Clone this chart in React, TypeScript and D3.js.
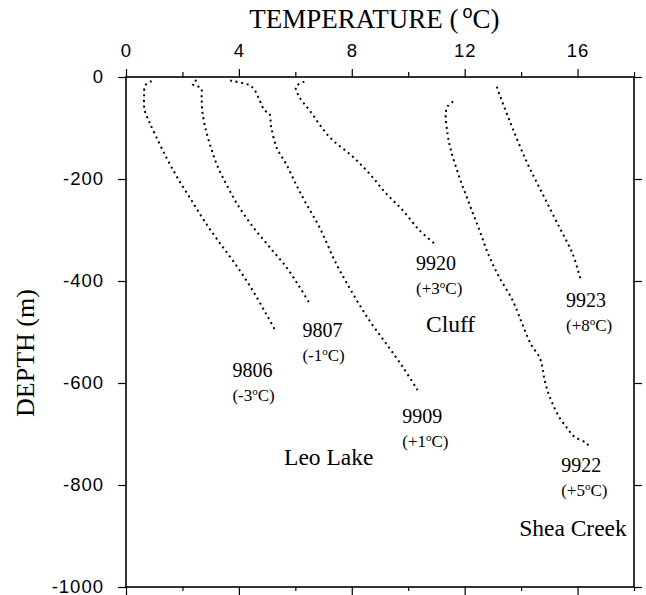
import { useEffect, useRef } from "react";
import * as d3 from "d3";

// temperature (°C), depth (m)
const well9806: [number, number][] = [
  [0.91, -8], [0.69, -16], [0.64, -40], [0.66, -65], [0.8, -85], [1.05, -115],
  [1.45, -160], [1.85, -200], [2.3, -240], [2.75, -280], [3.25, -320],
  [3.85, -365], [4.45, -415], [4.95, -463], [5.28, -496],
];
const well9807: [number, number][] = [
  [2.5, -6], [2.36, -14], [2.66, -22], [2.68, -40], [2.7, -65], [2.8, -97],
  [3.0, -137], [3.25, -176], [3.6, -215], [3.95, -250], [4.5, -294],
  [5.08, -333], [5.67, -372], [6.14, -411], [6.53, -446],
];
const well9909: [number, number][] = [
  [3.69, -7], [4.37, -16], [4.55, -25], [4.73, -45], [4.9, -65], [5.08, -72],
  [5.14, -97], [5.35, -140], [5.67, -170], [6.02, -210], [6.35, -245],
  [6.85, -294], [7.44, -365], [8.03, -424], [8.62, -477], [9.21, -522],
  [9.8, -568], [10.33, -614],
];
const well9920: [number, number][] = [
  [6.32, -9], [6.02, -19], [6.14, -39], [6.5, -65], [7.2, -117], [8.03, -156],
  [8.62, -189], [9.21, -228], [9.8, -261], [10.39, -300], [10.96, -328],
];
const well9922: [number, number][] = [
  [11.59, -48], [11.39, -58], [11.33, -71], [11.39, -110], [11.51, -143],
  [11.81, -196], [12.16, -248], [12.52, -300], [12.87, -352], [13.22, -392],
  [13.69, -437], [13.99, -477], [14.22, -509], [14.4, -529], [14.64, -548],
  [14.75, -568], [14.81, -588], [14.93, -614], [15.11, -640], [15.35, -667],
  [15.64, -689], [15.88, -705], [16.29, -717], [16.44, -726],
];
const well9923: [number, number][] = [
  [13.14, -19], [13.22, -32], [13.58, -84], [14.17, -163], [14.75, -228],
  [15.35, -294], [15.82, -346], [16.11, -398],
];

const wellNames = ["9806", "9807", "9909", "9920", "9922", "9923"];
const wellOffsets = ["-3", "-1", "+1", "+3", "+5", "+8"];
const wellCurves = [well9806, well9807, well9909, well9920, well9922, well9923];

const siteNames = ["Leo Lake", "Cluff", "Shea Creek"];

const tempMajorTicks = [0, 4, 8, 12, 16];
const tempMinorTicks = [2, 6, 10, 14, 18];
const depthTicks = [0, -200, -400, -600, -800, -1000];

const SERIF = "'Liberation Serif', 'Times New Roman', serif";
const SANS = "'Liberation Sans', Arial, Helvetica, sans-serif";

export default function App() {
  const svgRef = useRef<SVGSVGElement>(null);
  const width = 646;
  const height = 595;

  useEffect(() => {
    if (!svgRef.current) return;
    const svg = d3.select(svgRef.current);
    svg.selectAll("*").remove();

    const margin = { top: 77, right: 12, bottom: 8, left: 126 };
    const innerWidth = width - margin.left - margin.right;
    const innerHeight = height - margin.top - margin.bottom;

    const g = svg
      .append("g")
      .attr("transform", `translate(${margin.left},${margin.top})`);

    const x = d3.scaleLinear().domain([0, 18]).range([0, innerWidth]);
    const y = d3.scaleLinear().domain([0, -1000]).range([0, innerHeight]);

    // axes (ticks outward on all four sides)
    const styleAxis = (sel: d3.Selection<SVGGElement, unknown, null, undefined>) => {
      sel.select(".domain").remove();
      sel.selectAll(".tick line").attr("stroke", "#000").attr("stroke-width", 1.2);
      sel.selectAll(".tick text")
        .attr("fill", "#000")
        .attr("font-family", SANS)
        .attr("font-size", "18.5px")
        .attr("letter-spacing", "1px");
    };

    g.append("g")
      .call(d3.axisTop(x).tickValues(tempMajorTicks).tickSize(8).tickPadding(12)
        .tickFormat(d => `${d}`))
      .call(styleAxis);
    g.append("g")
      .call(d3.axisTop(x).tickValues(tempMinorTicks).tickSize(5).tickFormat(() => ""))
      .call(styleAxis);
    g.append("g")
      .attr("transform", `translate(0,${innerHeight})`)
      .call(d3.axisBottom(x).tickValues(tempMajorTicks).tickSize(8).tickFormat(() => ""))
      .call(styleAxis);
    g.append("g")
      .attr("transform", `translate(0,${innerHeight})`)
      .call(d3.axisBottom(x).tickValues(tempMinorTicks).tickSize(4).tickFormat(() => ""))
      .call(styleAxis);
    g.append("g")
      .call(d3.axisLeft(y).tickValues(depthTicks).tickSize(8).tickPadding(14)
        .tickFormat(d => `${d}`))
      .call(styleAxis);
    g.append("g")
      .attr("transform", `translate(${innerWidth},0)`)
      .call(d3.axisRight(y).tickValues(depthTicks).tickSize(8).tickFormat(() => ""))
      .call(styleAxis);

    g.append("rect")
      .attr("width", innerWidth)
      .attr("height", innerHeight)
      .attr("fill", "none")
      .attr("stroke", "#000")
      .attr("stroke-width", 1.6);

    // dotted temperature logs
    const line = d3.line<[number, number]>()
      .x(d => x(d[0]))
      .y(d => y(d[1]))
      .curve(d3.curveCatmullRom);

    wellCurves.forEach(curve => {
      g.append("path")
        .datum(curve)
        .attr("fill", "none")
        .attr("stroke", "#000")
        .attr("stroke-width", 2)
        .attr("stroke-dasharray", "2,3.6")
        .attr("d", line);
    });

    // well labels, placed in data coords (left edge, baseline)
    const labelAt: [number, number][] = [
      [3.77, -588], [6.25, -510], [9.79, -678], [10.28, -378], [15.42, -775], [15.59, -451],
    ];
    wellNames.forEach((name, i) => {
      const [t, dep] = labelAt[i];
      g.append("text")
        .attr("x", x(t)).attr("y", y(dep))
        .attr("font-family", SERIF)
        .attr("font-size", "20px")
        .attr("fill", "#000")
        .text(name);
      const sub = g.append("text")
        .attr("x", x(t)).attr("y", y(dep) + 24)
        .attr("font-family", SERIF)
        .attr("font-size", "17px")
        .attr("fill", "#000");
      sub.append("tspan").text(`(${wellOffsets[i]}`);
      sub.append("tspan").attr("font-size", "11px").attr("dy", -6).text("o");
      sub.append("tspan").attr("dy", 6).text("C)");
    });

    const siteAt: [number, number][] = [[5.6, -760], [10.63, -500], [13.93, -900]];
    siteNames.forEach((name, i) => {
      g.append("text")
        .attr("x", x(siteAt[i][0])).attr("y", y(siteAt[i][1]))
        .attr("font-family", SERIF)
        .attr("font-size", "23.5px")
        .attr("fill", "#000")
        .text(name);
    });

    // axis titles
    const title = svg.append("text")
      .attr("x", margin.left + x(8.8))
      .attr("y", 28)
      .attr("text-anchor", "middle")
      .attr("font-family", SERIF)
      .attr("font-size", "27px")
      .attr("fill", "#000");
    title.append("tspan").text("TEMPERATURE (");
    title.append("tspan").attr("font-family", SANS).attr("font-size", "18px")
      .attr("dy", -10).attr("dx", 4).text("o");
    title.append("tspan").attr("dy", 10).text("C)");

    svg.append("text")
      .attr("transform", "rotate(-90)")
      .attr("x", -353)
      .attr("y", 34)
      .attr("text-anchor", "middle")
      .attr("font-family", SERIF)
      .attr("font-size", "26px")
      .attr("fill", "#000")
      .text("DEPTH (m)");
  }, []);

  return (
    <svg
      ref={svgRef}
      width={width}
      height={height}
      style={{ position: "absolute", left: 0, top: 0, background: "#fff" }}
    />
  );
}
